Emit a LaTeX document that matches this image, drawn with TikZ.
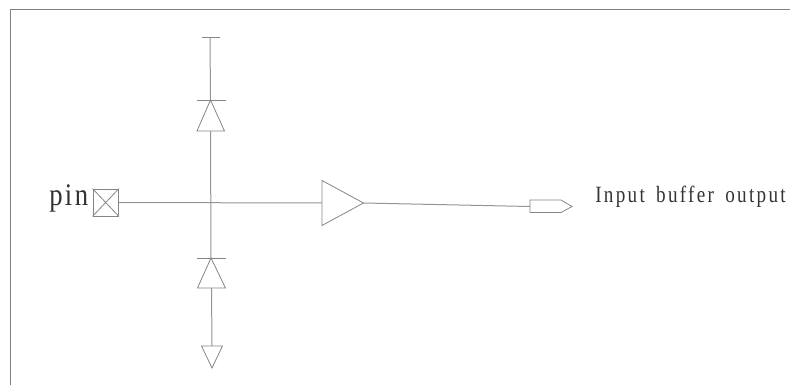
\documentclass[tikz,border=0pt]{standalone}
\usepackage{fontspec}
\newfontfamily\outfont[LetterSpace=12,WordSpace=1.6]{Liberation Serif}
\newfontfamily\pinfont[LetterSpace=9]{Liberation Serif}
\tikzset{
  sym/.style={draw=black!48,line width=0.6pt,line join=miter},
  wire/.style={draw=black!42,line width=0.75pt},
  frameline/.style={draw=black!50,line width=0.75pt},
  lbl/.style={inner sep=0pt,text=black!80,anchor=base west,transform shape}
}
\begin{document}
\begin{tikzpicture}[x=0.75pt,y=-0.75pt]
\useasboundingbox (0,0) rectangle (790,385);
% frame
\draw[frameline] (790,10) -- (10,10) -- (10,385);
% anchors
\coordinate (railL) at (202,37);
\coordinate (railR) at (220,37);
\coordinate (railC) at (210,37);
\coordinate (d1apex) at (210.5,100);
\coordinate (d1base) at (210.5,131);
\coordinate (d2apex) at (211,258);
\coordinate (d2base) at (211.5,288);
\coordinate (gndtop) at (212,346);
% pin pad
\node[sym,minimum width=19.1pt,minimum height=20.2pt,inner sep=0pt] (pad) at (105.7,202.5) {};
\draw[sym] (pad.north west) -- (pad.south east) (pad.north east) -- (pad.south west);
% top diode and rail
\draw[sym] (railL) -- (railR);
\draw[sym] (197,100) -- (226,100);
\draw[sym] (d1apex) -- (224.5,131) -- (197,131) -- cycle;
\draw[wire] (railC) -- (d1apex);
% bottom diode
\draw[sym] (197,258) -- (226,258);
\draw[sym] (d2apex) -- (225.5,288) -- (197.5,288) -- cycle;
\draw[wire] (d1base) -- (d2apex);
% ground
\draw[sym] (201.5,346) -- (222.5,346) -- (212,368) -- cycle;
\draw[wire] (d2base) -- (gndtop);
% buffer
\coordinate (bufin) at (322,203);
\coordinate (bufout) at (363.5,203);
\draw[sym] (322,180.5) -- (bufout) -- (322,225.5) -- cycle;
\draw[wire] (pad.east) -- (bufin);
% output port
\coordinate (portin) at (530,206.5);
\draw[sym] (portin) -- (530,200) -- (561,200) -- (572,206.5) -- (561,212.5) -- (530,212.5) -- cycle;
\draw[wire] (bufout) -- (portin);
% text
\node[lbl,yscale=1.18,font=\fontsize{20pt}{22pt}\pinfont] (pinlabel) at (49,205) {pin};
\node[lbl,yscale=1.22,font=\fontsize{14.35pt}{16pt}\outfont] (outlabel) at (595,202.7) {Input buffer output};
\end{tikzpicture}
\end{document}
